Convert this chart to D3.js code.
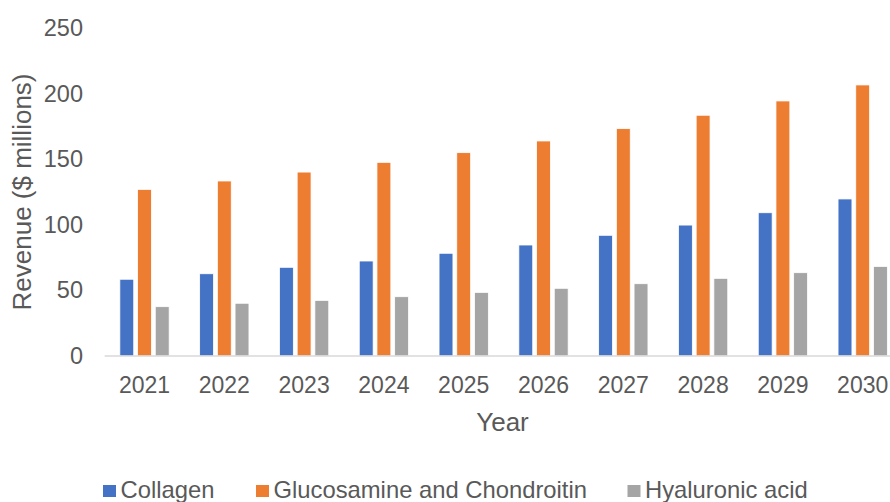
<!DOCTYPE html>
<html>
<head>
<meta charset="utf-8">
<script src="https://cdn.jsdelivr.net/npm/d3@7"></script>
<style>
  html, body { margin: 0; padding: 0; background: #fff; }
  svg { display: block; font-family: "Liberation Sans", Arial, sans-serif; }
</style>
</head>
<body>
<svg id="chart" width="890" height="502"></svg>
<script>
// Revenue by ingredient, 2021–2030 ($ millions)
const years = ["2021", "2022", "2023", "2024", "2025", "2026", "2027", "2028", "2029", "2030"];
const seriesNames = ["Collagen", "Glucosamine and Chondroitin", "Hyaluronic acid"];
const collagen = [58.5, 62.7, 67.6, 72.4, 78.3, 84.6, 92.0, 99.8, 109.2, 119.7];
const glucosamine = [127.0, 133.4, 140.2, 147.6, 155.0, 163.9, 173.3, 183.5, 194.4, 206.6];
const hyaluronic = [37.6, 40.2, 42.4, 45.2, 48.5, 51.6, 55.1, 59.2, 63.5, 68.3];
const yTicks = [0, 50, 100, 150, 200, 250];
const colors = ["#4472C4", "#ED7D31", "#A5A5A5"];

const values = [collagen, glucosamine, hyaluronic];
const rows = years.map((yr, i) => ({
  year: yr,
  vals: seriesNames.map((s, k) => ({ key: s, value: values[k][i], color: colors[k] }))
}));

const svg = d3.select("#chart");
const textColor = "#595959";

const x0 = d3.scaleBand()
  .domain(years)
  .range([104.6, 902.6])
  .paddingInner(0.382)
  .paddingOuter(0.191);

const x1 = d3.scaleBand()
  .domain(seriesNames)
  .range([0, x0.bandwidth()])
  .paddingInner(0.215)
  .paddingOuter(0);

const y = d3.scaleLinear().domain([0, 250]).range([356, 28]);

// Bars
const groups = svg.append("g")
  .selectAll("g")
  .data(rows)
  .join("g")
  .attr("transform", d => `translate(${x0(d.year)},0)`);

groups.selectAll("rect")
  .data(d => d.vals)
  .join("rect")
  .attr("x", d => x1(d.key))
  .attr("y", d => y(d.value))
  .attr("width", x1.bandwidth())
  .attr("height", d => y(0) - y(d.value))
  .attr("fill", d => d.color)
  .attr("stroke", "#ffffff")
  .attr("stroke-width", 0.8);

// Baseline
svg.append("line")
  .attr("x1", 104.6).attr("x2", 902.6)
  .attr("y1", y(0)).attr("y2", y(0))
  .attr("stroke", "#D9D9D9")
  .attr("stroke-width", 1.5);

// Y axis labels
const yAxis = svg.append("g")
  .attr("transform", "translate(83,0)")
  .call(d3.axisLeft(y).tickValues(yTicks).tickSize(0).tickPadding(0));
yAxis.select(".domain").remove();
yAxis.selectAll("text")
  .attr("fill", textColor)
  .style("font-size", "23.5px")
  .style("font-family", "Liberation Sans, Arial, sans-serif");

// X axis labels
const xAxis = svg.append("g")
  .attr("transform", `translate(0,${y(0)})`)
  .call(d3.axisBottom(x0).tickSize(0).tickPadding(18));
xAxis.select(".domain").remove();
xAxis.selectAll("text")
  .attr("fill", textColor)
  .attr("dy", "0")
  .attr("y", 37)
  .style("font-size", "23px")
  .style("font-family", "Liberation Sans, Arial, sans-serif");

// Axis titles
svg.append("text")
  .attr("x", 502.5)
  .attr("y", 431)
  .attr("text-anchor", "middle")
  .attr("fill", textColor)
  .style("font-size", "26px")
  .text("Year");

svg.append("text")
  .attr("transform", "translate(31,192) rotate(-90)")
  .attr("text-anchor", "middle")
  .attr("fill", textColor)
  .style("font-size", "26px")
  .text("Revenue ($ millions)");

// Legend
const legendX = [103, 256, 627.5];
const legend = svg.append("g")
  .selectAll("g")
  .data(seriesNames)
  .join("g")
  .attr("transform", (d, i) => `translate(${legendX[i]},485)`);

legend.append("rect")
  .attr("width", 13).attr("height", 12)
  .attr("fill", (d, i) => colors[i]);

legend.append("text")
  .attr("x", 17.5)
  .attr("y", 12.5)
  .attr("fill", textColor)
  .style("font-size", "23.8px")
  .text(d => d);
</script>
</body>
</html>
